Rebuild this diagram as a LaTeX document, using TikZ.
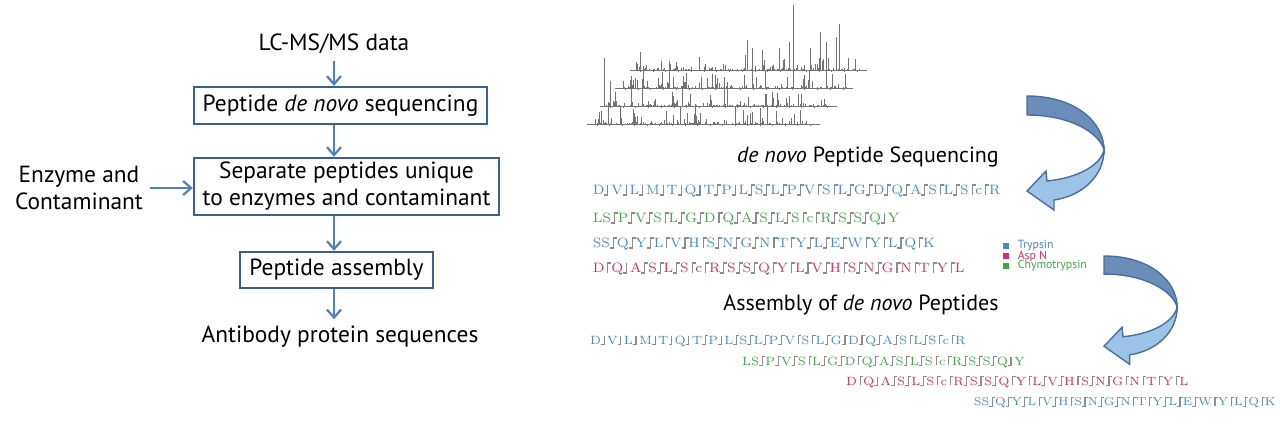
\documentclass[tikz,border=0pt]{standalone}
\usepackage{fontspec}
\setsansfont{PT Sans}
\usetikzlibrary{arrows.meta}
\usetikzlibrary{calc}
\usetikzlibrary{positioning}

\definecolor{boxblue}{HTML}{3A5F96}
\definecolor{arrblue}{HTML}{4F81BD}
\definecolor{trypcol}{HTML}{4A88C6}
\definecolor{aspcol}{HTML}{D22F6C}
\definecolor{chymcol}{HTML}{3FA548}
\definecolor{bandtop}{HTML}{6A8DBA}
\definecolor{bandlow}{HTML}{9CC3E8}
\definecolor{bandline}{HTML}{4A6F9E}

\tikzset{
  flowbox/.style={draw=boxblue, line width=1.2pt, inner sep=2pt, align=center},
  flowtext/.style={font=\sffamily\fontsize{11.7}{13.5}\selectfont},
  titletext/.style={font=\sffamily\fontsize{11}{13}\selectfont},
  legtext/.style={font=\sffamily\fontsize{5.9}{7}\selectfont, inner sep=0pt, anchor=west},
  flow/.style={draw=arrblue, line width=1.1pt, -{Straight Barb[length=4pt,width=7pt]}},
  res/.style={inner sep=0pt, text depth=0pt},
  fragline/.style={draw=black!45, line width=.55pt},
  spec/.style={draw=black!55, line width=.2pt},
  band/.style={draw=bandline, line width=.7pt},
  pics/mkn/.style={code={}},
  pics/mkb/.style={code={\draw[fragline] (-3.5,5) -- (0,5) -- (0,-5);}},
  pics/mkt/.style={code={\draw[fragline] (0,5) -- (0,-5) -- (3.5,-5);}},
  pics/mks/.style={code={\draw[fragline] (-3.5,5) -- (0,5) -- (0,-5) -- (3.5,-5);}},
}

% one spectrum: x start, x end, baseline, seed
\newcommand{\spectrum}[4]{%
  \pgfmathsetseed{#4}
  \draw[spec] (#1,#3) -- (#2,#3);
  \foreach \k in {0,...,17}
    \draw[spec] ({#1+10+\k*(#2-#1-20)/17},#3) -- ++(0,2);
  \foreach \k in {1,...,140} {
    \pgfmathsetmacro{\px}{#1+6+rnd*(#2-#1-12)}
    \pgfmathsetmacro{\ph}{1+13*pow(rnd,5)}
    \draw[spec] (\px,#3) -- ++(0,-\ph);
  }
}

% one row of residues: name, x, y, colour, scale, mark/letter list
\newcommand{\peprow}[6]{%
  \pgfmathsetmacro{\rowfs}{6.8*#5}
  \pgfmathsetmacro{\rowgap}{3*#5}
  \pgfmathsetmacro{\rowth}{4.7*#5}
  \node[inner sep=0pt, minimum size=0pt] (#1-0) at (#2,#3) {};
  \foreach \m/\l [count=\i] in #6 {
    \pgfmathtruncatemacro{\j}{\i-1}
    \node[res, text=#4, text height=\rowth pt, font=\fontsize{\rowfs}{\rowfs}\selectfont,
      right=\rowgap pt of #1-\j] (#1-\i) {\l};
    \pic[scale=#5] at ($(#1-\j.east)!.5!(#1-\i.west)$) {mk\m};
  }
}

\newcommand{\lcrow}{n/D,b/V,b/L,b/M,b/T,b/Q,b/T,s/P,b/L,s/S,s/L,s/P,s/V,t/S,t/L,s/G,s/D,s/Q,s/A,s/S,t/L,s/S,t/c,t/R}
\newcommand{\chrow}{n/LS,s/P,s/V,s/S,t/L,s/G,s/D,t/Q,s/A,s/S,s/L,s/S,t/c,t/R,s/S,s/S,s/Q,b/Y}
\newcommand{\trrow}{n/SS,s/Q,s/Y,s/L,t/V,s/H,t/S,s/N,s/G,s/N,t/T,t/Y,s/L,s/E,s/W,t/Y,t/L,s/Q,t/K}
\newcommand{\asrow}{n/D,t/Q,b/A,s/S,s/L,s/S,t/c,t/R,s/S,s/S,s/Q,t/Y,t/L,s/V,s/H,t/S,s/N,s/G,t/N,t/T,t/Y,t/L}

\begin{document}
\begin{tikzpicture}[x=0.5pt, y=-0.5pt]
  \useasboundingbox (0,0) rectangle (1280,440);

  % workflow
  \node[flowtext] (lcms) at (334,44) {LC-MS/MS data};
  \node[flowbox, flowtext, minimum width=146.5pt, minimum height=18.5pt] (denovo) at (340.5,105.5)
    {Peptide \textit{de novo} sequencing};
  \node[flowbox, flowtext, minimum width=152.5pt, minimum height=28.5pt] (separate) at (346.5,186.5)
    {Separate peptides unique\\to enzymes and contaminant};
  \node[flowbox, flowtext, minimum width=96.5pt, minimum height=18pt] (assembly) at (336.5,270)
    {Peptide assembly};
  \node[flowtext] (antibody) at (340,337) {Antibody protein sequences};
  \node[flowtext, align=center] (enzyme) at (79,188) {Enzyme and\\Contaminant};

  \draw[flow] (lcms.south) -- (lcms |- denovo.north);
  \draw[flow] (denovo.south -| lcms) -- (separate.north -| lcms);
  \draw[flow] (separate.south -| lcms) -- (assembly.north -| lcms);
  \draw[flow] (assembly.south -| lcms) -- (lcms |- antibody.north);
  \draw[flow] (enzyme.east) -- (enzyme.east -| separate.west);

  % spectra
  \spectrum{630}{867}{70}{11}
  \foreach \px/\ph in {640/18,676/8,745/15,747/30,752/22,762/20,779/22,789/28,793/65,810/22,820/38,826/28,836/33,839/46,848/12}
    \draw[spec] (\px,70) -- ++(0,-\ph);
  \spectrum{615}{853}{88}{23}
  \foreach \px/\ph in {643/20,662/16,669/18,686/15,752/20,765/18,793/18,809/18,826/18,845/14}
    \draw[spec] (\px,88) -- ++(0,-\ph);
  \spectrum{600}{837}{106}{37}
  \foreach \px/\ph in {604/48,610/25,631/30,642/22,682/20,724/18,727/24,772/14,798/12}
    \draw[spec] (\px,106) -- ++(0,-\ph);
  \spectrum{587}{820}{124}{41}
  \foreach \px/\ph in {608/22,620/18,633/15,680/18,695/20,735/18,760/16,767/17,800/14}
    \draw[spec] (\px,124) -- ++(0,-\ph);

  % de novo sequences
  \node[titletext] (seqtitle) at (868,157) {\textit{de novo} Peptide Sequencing};
  \peprow{sa}{586}{190}{trypcol}{1}{\lcrow}
  \peprow{sb}{586}{218}{chymcol}{1}{\chrow}
  \peprow{sc}{586}{243}{trypcol}{1}{\trrow}
  \peprow{sd}{586}{268}{aspcol}{1}{\asrow}

  % legend
  \node[fill=trypcol, inner sep=0pt, minimum size=3pt] (legT) at (1006,246) {};
  \node[fill=aspcol, inner sep=0pt, minimum size=3pt] (legA) at (1006,256) {};
  \node[fill=chymcol, inner sep=0pt, minimum size=3pt] (legC) at (1006,266) {};
  \node[legtext, text=trypcol, right=4pt of legT] {Trypsin};
  \node[legtext, text=aspcol, right=4pt of legA] {Asp N};
  \node[legtext, text=chymcol, right=4pt of legC] {Chymotrypsin};

  % assembly
  \node[titletext] (asmtitle) at (861,305) {Assembly of \textit{de novo} Peptides};
  \peprow{aa}{584}{340}{trypcol}{.88}{\lcrow}
  \peprow{ab}{736}{361}{chymcol}{.88}{\chrow}
  \peprow{ac}{840}{381}{aspcol}{.88}{\asrow}
  \peprow{ad}{968}{402}{trypcol}{.84}{\trrow}

  % turning arrows
  \foreach \ox/\oy/\sc in {1027/96/1, 1104/256/.95} {
    \begin{scope}[shift={(\ox,\oy)}, scale=\sc]
      \filldraw[band, fill=bandtop] (0,0) .. controls (48,0) and (77,26) .. (77,54)
        .. controls (73,38) and (45,19) .. (0,19) -- cycle;
      \filldraw[band, fill=bandlow] (77,54) .. controls (77,80) and (55,100) .. (27,104)
        -- (27,114) -- (0,95) -- (19,75) -- (20,85)
        .. controls (50,82) and (73,70) .. (77,54) -- cycle;
    \end{scope}
  }
\end{tikzpicture}
\end{document}
